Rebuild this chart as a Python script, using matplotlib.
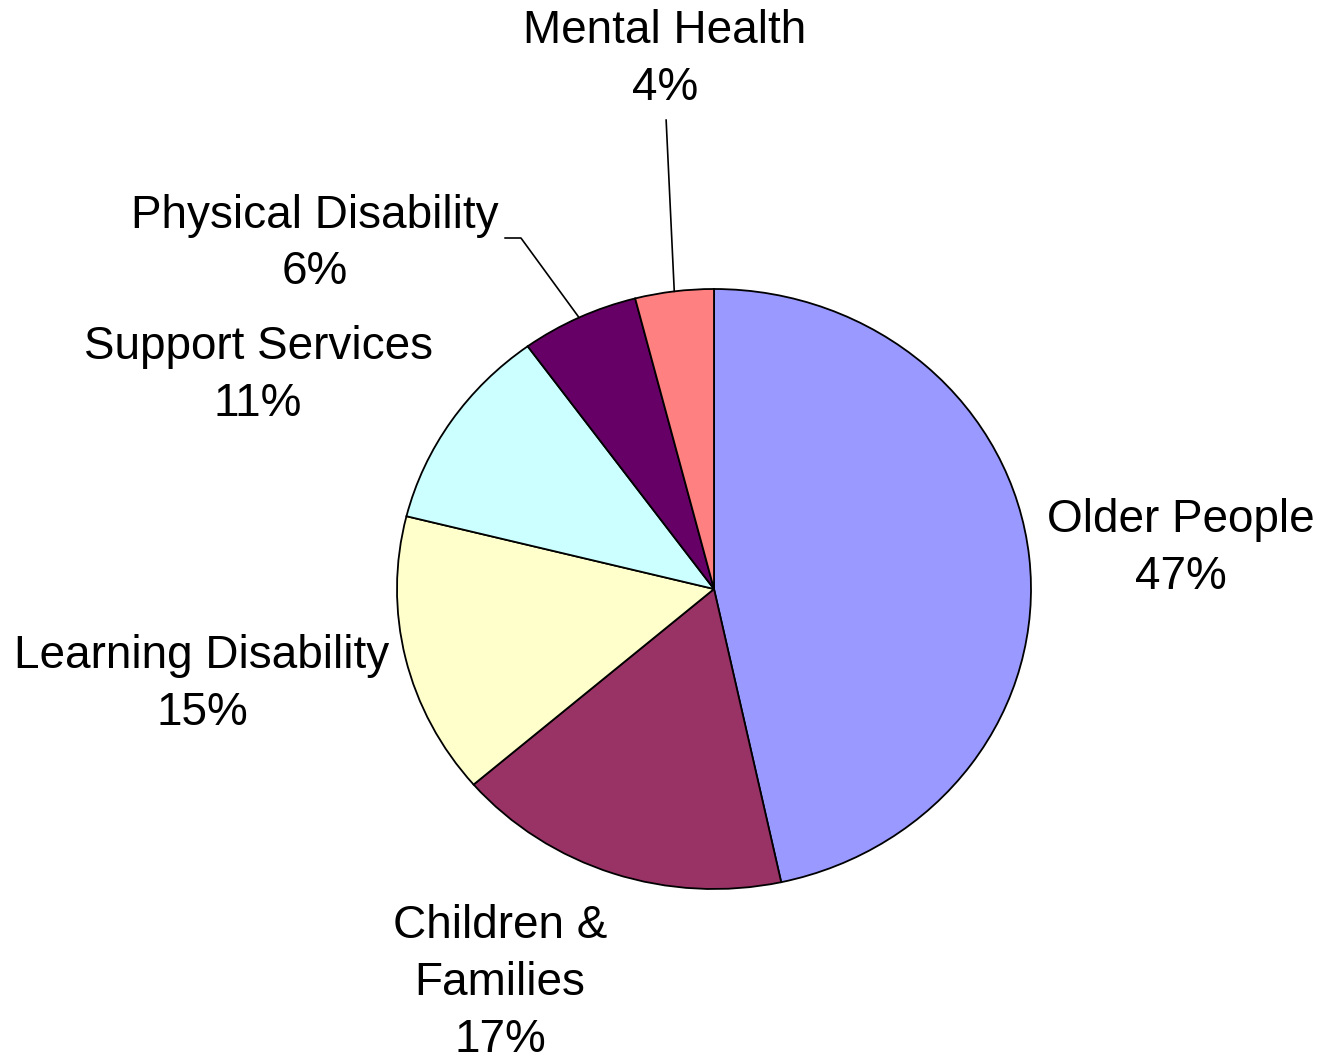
import numpy as np
import matplotlib.pyplot as plt

labels = ['Older People', 'Children &\nFamilies', 'Learning Disability',
          'Support Services', 'Physical Disability', 'Mental Health']
shares = [46.6, 17.1, 15.2, 11.1, 6.0, 4.0]
colors = ['#9999FF', '#993366', '#FFFFCC', '#CCFFFF', '#660066', '#FF8080']

# label block centres, in pie-radius units relative to the pie centre
label_pos = [(1.473, 0.135), (-0.675, -1.313), (-1.615, -0.318),
             (-1.438, 0.712), (-1.259, 1.15), (-0.155, 1.765)]

plt.rcParams['font.family'] = ['Liberation Sans', 'DejaVu Sans']

fig = plt.figure(figsize=(13.18, 10.53), dpi=100)
ax = fig.add_axes([0, 0, 1, 1])

wedges, _ = ax.pie(shares, colors=colors, startangle=90, counterclock=False,
                   wedgeprops=dict(edgecolor='black', linewidth=1.3))

# slightly wider than tall, like the original
ax.set_aspect('auto')
ax.set_xlim(-714 / 317, (1318 - 714) / 317)
ax.set_ylim(-(1053 - 589) / 300, 589 / 300)
ax.axis('off')

for lab, val, (x, y) in zip(labels, shares, label_pos):
    ax.text(x, y, f'{lab}\n{val:.0f}%', ha='center', va='center',
            multialignment='center', fontsize=33, linespacing=1.38)

# leader lines for the two small slices
for w, kind in zip(wedges[4:], ['bent', 'straight']):
    ang = np.deg2rad((w.theta1 + w.theta2) / 2)
    x0, y0 = np.cos(ang), np.sin(ang)
    if kind == 'bent':
        xs = [x0, -0.609, -0.659]
        ys = [y0, 1.17, 1.17]
    else:
        xs = [x0, -0.151]
        ys = [y0, 1.563]
    ax.plot(xs, ys, color='black', linewidth=1.2)

fig.savefig('out.png', dpi=100, facecolor='white')
